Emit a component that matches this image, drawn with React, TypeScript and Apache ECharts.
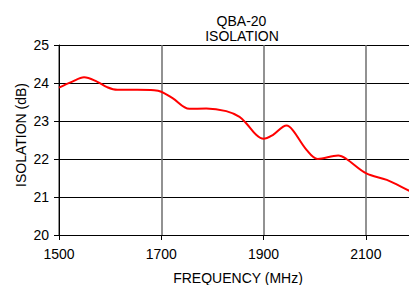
import React, { useEffect, useRef } from "react";
import * as echarts from "echarts";

const titleLines = ["QBA-20", "ISOLATION"];
const xAxisName = "FREQUENCY (MHz)";
const yAxisName = "ISOLATION (dB)";

const freqMHz = [1500, 1525, 1549, 1575, 1594, 1614, 1653, 1686, 1700, 1722, 1755, 1788, 1827, 1853, 1866, 1886, 1900, 1918, 1945, 1957, 1984, 2006, 2046, 2062, 2101, 2141, 2184, 2200];
const isolationDb = [23.88, 24.03, 24.15, 24.03, 23.89, 23.82, 23.82, 23.81, 23.77, 23.6, 23.32, 23.33, 23.26, 23.11, 22.94, 22.63, 22.53, 22.63, 22.88, 22.76, 22.24, 22.0, 22.09, 22.0, 21.62, 21.45, 21.17, 21.07];

const xMin = 1500;
const xMax = 2200;
const xStep = 200;
const yMin = 20;
const yMax = 25;
const yStep = 1;

const FONT = "'Liberation Sans', Arial, sans-serif";

export default function App() {
  const ref = useRef<HTMLDivElement>(null);
  useEffect(() => {
    if (!ref.current) return;
    const chart = echarts.init(ref.current, null, { renderer: "svg" });
    const data = freqMHz.map((f, i) => [f, isolationDb[i]]);
    chart.setOption({
      animation: false,
      backgroundColor: "#ffffff",
      textStyle: { fontFamily: FONT },
      grid: { left: 59, top: 45, right: 23, bottom: 50, containLabel: false },
      graphic: [
        {
          type: "text",
          x: 241.5,
          y: 20.5,
          style: { text: titleLines[0], font: `14px ${FONT}`, fill: "#000", align: "center", verticalAlign: "middle" },
        },
        {
          type: "text",
          x: 242,
          y: 36,
          style: { text: titleLines[1], font: `14px ${FONT}`, fill: "#000", align: "center", verticalAlign: "middle" },
        },
        {
          type: "text",
          x: 238,
          y: 277.5,
          style: { text: xAxisName, font: `14px ${FONT}`, fill: "#000", align: "center", verticalAlign: "middle" },
        },
        {
          type: "text",
          x: 21,
          y: 135,
          rotation: Math.PI / 2,
          style: { text: yAxisName, font: `14px ${FONT}`, fill: "#000", align: "center", verticalAlign: "middle" },
        },
      ],
      xAxis: {
        type: "value",
        min: xMin,
        max: xMax,
        interval: xStep,
        axisLine: { show: true, lineStyle: { color: "#000", width: 1 } },
        axisTick: { show: true, length: 5, lineStyle: { color: "#000" } },
        axisLabel: {
          color: "#000",
          fontSize: 14,
          fontFamily: FONT,
          margin: 12,
          formatter: (v: number) => (v >= 2200 ? "" : String(v)),
        },
        splitLine: { show: true, lineStyle: { color: "#6e6e6e", width: 1.5 } },
      },
      yAxis: {
        type: "value",
        min: yMin,
        max: yMax,
        interval: yStep,
        axisLine: { show: true, lineStyle: { color: "#000", width: 1 } },
        axisTick: { show: true, length: 5, lineStyle: { color: "#000" } },
        axisLabel: { color: "#000", fontSize: 14, fontFamily: FONT, margin: 10 },
        splitLine: { show: true, lineStyle: { color: "#000", width: 1 } },
      },
      series: [
        {
          type: "line",
          data,
          smooth: 0.35,
          showSymbol: false,
          symbol: "none",
          lineStyle: { color: "#ff0000", width: 2 },
          z: 5,
        },
      ],
    });
    return () => chart.dispose();
  }, []);
  return (
    <div style={{ position: "fixed", left: 0, top: 0, width: 409, height: 285, overflow: "hidden", background: "#fff" }}>
      <div ref={ref} style={{ width: 440, height: 285 }} />
    </div>
  );
}
